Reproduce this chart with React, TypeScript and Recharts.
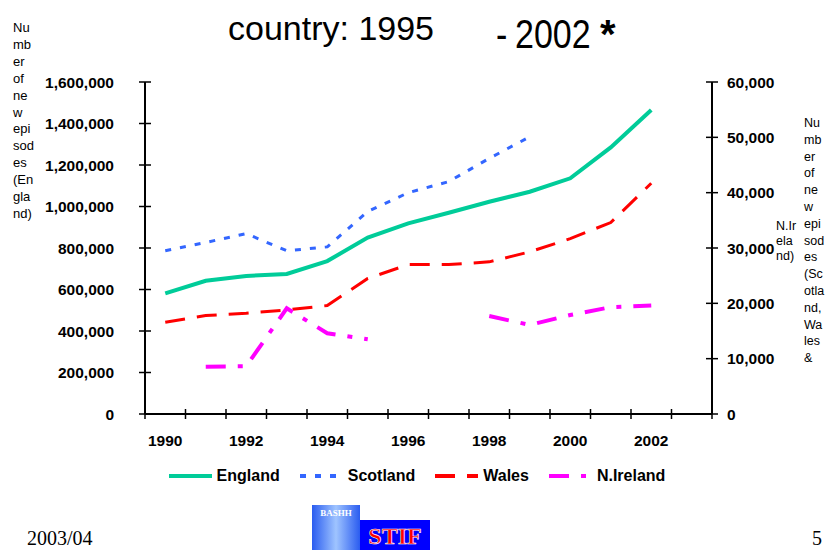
import { Line, LineChart, XAxis, YAxis } from "recharts";

const years = [1990, 1991, 1992, 1993, 1994, 1995, 1996, 1997, 1998, 1999, 2000, 2001, 2002];
const england = [581000, 642000, 665000, 675000, 737000, 850000, 919000, 970000, 1023000, 1071000, 1136000, 1285000, 1465000];
const scotland = [29500, 31000, 32600, 29500, 30200, 36600, 40000, 42000, 46200, 50100, null, null, null];
const wales = [16600, 17800, 18200, 18800, 19600, 24500, 27000, 27000, 27500, 29300, 31700, 34600, 41700];
const nIreland = [null, 8550, 8650, 19100, 14600, 13500, null, null, 17700, 16100, 17900, 19300, 19600];

const yearLabels = [1990, 1992, 1994, 1996, 1998, 2000, 2002];
const leftTicks = [0, 200000, 400000, 600000, 800000, 1000000, 1200000, 1400000, 1600000];
const rightTicks = [0, 10000, 20000, 30000, 40000, 50000, 60000];

const leftLabel = ["Nu", "mb", "er", "of", "ne", "w", "epi", "sod", "es", "(En", "gla", "nd)"];
const rightLabel = ["Nu", "mb", "er", "of", "ne", "w", "epi", "sod", "es", "(Sc", "otla", "nd,", "Wa", "les", "&"];
const rightLabel2 = ["N.Ir", "ela", "nd)"];

const series = [
  { key: "england", name: "England", color: "#00cc99", width: 4, dash: undefined as string | undefined, axis: "left" },
  { key: "scotland", name: "Scotland", color: "#3366ff", width: 3, dash: "6 9", axis: "right" },
  { key: "wales", name: "Wales", color: "#ff0000", width: 3, dash: "20 12", axis: "right" },
  { key: "nIreland", name: "N.Ireland", color: "#ff00ff", width: 4, dash: "20 12 5 12", axis: "right" },
];

const data = years.map((year, i) => ({
  year,
  england: england[i],
  scotland: scotland[i],
  wales: wales[i],
  nIreland: nIreland[i],
}));

// band edges for the x axis tick marks + the year labels in the middle of bands
const xTicks = [...years.map((y) => y - 0.5), years[years.length - 1] + 0.5, 2003.5, ...yearLabels].sort((a, b) => a - b);

const FONT = "'Liberation Sans', Arial, sans-serif";
const SERIF = "'Liberation Serif', 'Times New Roman', serif";
const fmt = (v: number) => v.toLocaleString("en-US");

const TICK = 6;
const LEFT_MARGIN = 25;
const RIGHT_MARGIN = 9;
const X_TICK = 5;
const X_MARGIN = 21;

function LeftTick(props: any) {
  const { x, y, payload } = props;
  const ax = x + TICK + LEFT_MARGIN;
  return (
    <g>
      <line x1={ax - 6} x2={ax + 6} y1={y} y2={y} stroke="#000" strokeWidth={1.5} />
      <text x={x} y={y} dy="0.355em" textAnchor="end" fontFamily={FONT} fontWeight="bold" fontSize={15.5} fill="#000">
        {fmt(payload.value)}
      </text>
    </g>
  );
}

function RightTick(props: any) {
  const { x, y, payload } = props;
  const ax = x - TICK - RIGHT_MARGIN;
  return (
    <g>
      <line x1={ax - 6} x2={ax + 6} y1={y} y2={y} stroke="#000" strokeWidth={1.5} />
      <text x={x} y={y} dy="0.355em" textAnchor="start" fontFamily={FONT} fontWeight="bold" fontSize={15.5} fill="#000">
        {fmt(payload.value)}
      </text>
    </g>
  );
}

function YearTick(props: any) {
  const { x, y, payload } = props;
  const v = payload.value as number;
  const ay = y - X_TICK - X_MARGIN;
  if (Number.isInteger(v)) {
    return (
      <text x={x} y={y} dy="0.355em" textAnchor="middle" fontFamily={FONT} fontWeight="bold" fontSize={15.5} fill="#000">
        {v}
      </text>
    );
  }
  return <line x1={x} x2={x} y1={ay - 5} y2={ay + 5} stroke="#000" strokeWidth={1.5} />;
}

export default function App() {
  return (
    <div style={{ position: "absolute", left: 0, top: 0, width: 826, height: 550, overflow: "hidden", background: "#fff", fontFamily: FONT }}>
      <LineChart width={826} height={460} data={data} margin={{ top: 82, right: 0, left: 0, bottom: 10 }}>
        <XAxis
          dataKey="year"
          type="number"
          domain={[1989.5, 2003.5]}
          ticks={xTicks}
          interval={0}
          height={36}
          tickSize={X_TICK}
          tickMargin={X_MARGIN}
          tickLine={false}
          tick={<YearTick />}
          axisLine={{ stroke: "#000", strokeWidth: 2 }}
        />
        <YAxis
          yAxisId="left"
          orientation="left"
          width={145}
          domain={[0, 1600000]}
          ticks={leftTicks}
          interval={0}
          tickSize={TICK}
          tickMargin={LEFT_MARGIN}
          tickLine={false}
          tick={<LeftTick />}
          axisLine={{ stroke: "#000", strokeWidth: 2 }}
        />
        <YAxis
          yAxisId="right"
          orientation="right"
          width={114}
          domain={[0, 60000]}
          ticks={rightTicks}
          interval={0}
          tickSize={TICK}
          tickMargin={RIGHT_MARGIN}
          tickLine={false}
          tick={<RightTick />}
          axisLine={{ stroke: "#000", strokeWidth: 2 }}
        />
        {series.map((s) => (
          <Line
            key={s.key}
            yAxisId={s.axis}
            dataKey={s.key}
            name={s.name}
            type="linear"
            stroke={s.color}
            strokeWidth={s.width}
            strokeDasharray={s.dash}
            dot={false}
            activeDot={false}
            connectNulls={false}
            isAnimationActive={false}
          />
        ))}
      </LineChart>

      {/* legend */}
      <div style={{ position: "absolute", left: 0, top: 466, width: 826, display: "flex", justifyContent: "center", alignItems: "center", paddingLeft: 8, boxSizing: "border-box" }}>
        {series.map((s, i) => (
          <div key={s.key} style={{ display: "flex", alignItems: "center", marginRight: i < series.length - 1 ? 20 : 0 }}>
            <svg width={43} height={20} style={{ marginRight: 5 }}>
              <line x1={0} x2={43} y1={10} y2={10} stroke={s.color} strokeWidth={4} strokeDasharray={s.dash} />
            </svg>
            <span style={{ fontWeight: "bold", fontSize: 16, color: "#000", lineHeight: "20px" }}>{s.name}</span>
          </div>
        ))}
      </div>

      <svg width={826} height={550} style={{ position: "absolute", left: 0, top: 0, pointerEvents: "none" }}>
        <text x={228} y={40} fontFamily={FONT} fontSize={34} fill="#000">country: 1995</text>
        <text transform="translate(496,48) scale(1,1.2)" fontFamily={FONT} fontSize={34} fill="#000">-</text>
        <text transform="translate(515,48) scale(1,1.2)" fontFamily={FONT} fontSize={34} fill="#000">2002</text>
        <text x={600} y={48} fontFamily={FONT} fontSize={40} fontWeight="bold" fill="#000">*</text>

        {leftLabel.map((t, i) => (
          <text key={"l" + i} x={13} y={32 + i * 16.9} fontFamily={FONT} fontSize={13} fill="#000">{t}</text>
        ))}
        {rightLabel.map((t, i) => (
          <text key={"r" + i} x={804} y={127 + i * 16.8} fontFamily={FONT} fontSize={12.5} fill="#000">{t}</text>
        ))}
        {rightLabel2.map((t, i) => (
          <text key={"r2" + i} x={776} y={230 + i * 15} fontFamily={FONT} fontSize={12.5} fill="#000">{t}</text>
        ))}

        <text x={27} y={545} fontFamily={SERIF} fontSize={20} fill="#000">2003/04</text>
        <text x={812} y={545} fontFamily={SERIF} fontSize={20} fill="#000">5</text>

        <defs>
          <linearGradient id="bash" x1="0" x2="1" y1="0" y2="0">
            <stop offset="0" stopColor="#2a5cf0" />
            <stop offset="0.5" stopColor="#9fc4ff" />
            <stop offset="1" stopColor="#2a5cf0" />
          </linearGradient>
        </defs>
        <rect x={312} y={505} width={48} height={45} fill="url(#bash)" />
        <text x={336} y={516} textAnchor="middle" fontFamily={SERIF} fontSize={9} fontWeight="bold" fill="#fff">BASHH</text>
        <rect x={360} y={520} width={70} height={30} fill="#0000ff" />
        <text x={395} y={544} textAnchor="middle" fontFamily={SERIF} fontSize={24} fontWeight="bold" fill="#ff0000" stroke="#fff" strokeWidth={0.6}>STIF</text>
      </svg>
    </div>
  );
}
